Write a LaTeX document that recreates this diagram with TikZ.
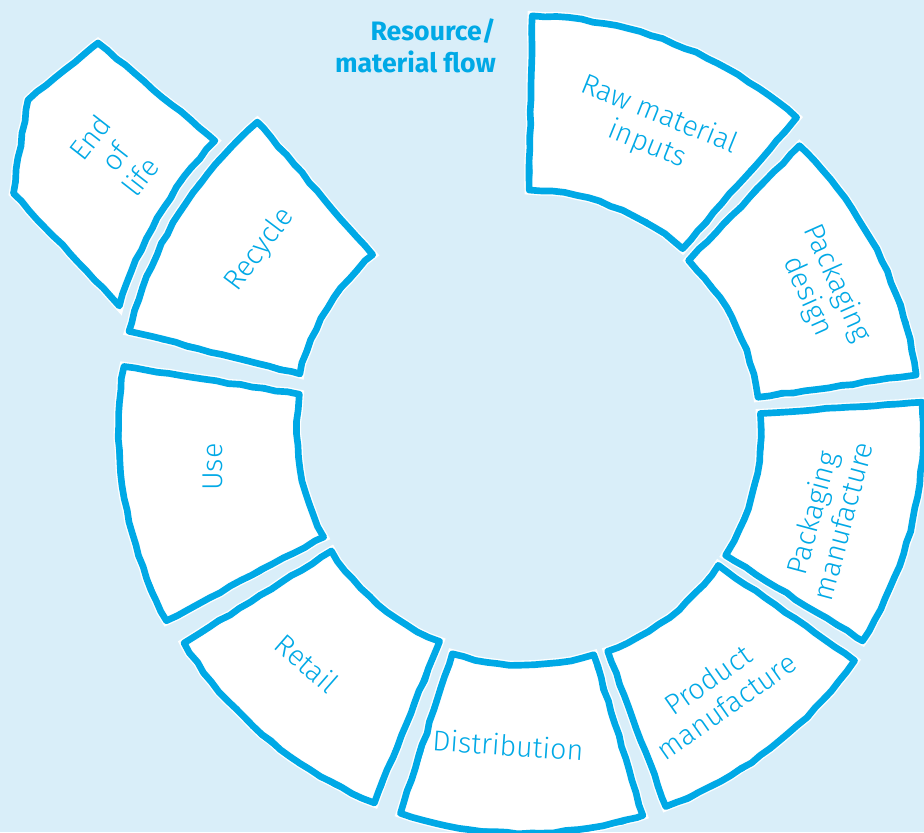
\documentclass[tikz,border=0pt]{standalone}
\usepackage{fontspec}
\setmainfont{Fira Sans}[UprightFont={* Light}, BoldFont={* Bold}]
\usepackage{tikz}
\usetikzlibrary{decorations.pathmorphing}

\definecolor{flowblue}{RGB}{0,169,230}
\definecolor{paleblue}{RGB}{217,238,249}

\tikzset{
  part/.style={fill=white, draw=flowblue, line width=5pt, line join=round,
    decorate, decoration={random steps, segment length=9pt, amplitude=0.6pt},
    preaction={draw=white, line width=7pt}},
  rough/.style={draw=flowblue, line width=2.2pt, line join=round, decorate,
    decoration={random steps, segment length=13pt, amplitude=1.3pt}},
  lbl/.style={text=flowblue, font=\fontsize{21.5}{24}\selectfont, align=center, inner sep=0pt},
  heading/.style={text=flowblue, font=\bfseries\fontsize{20}{23.5}\selectfont, align=right, inner sep=0pt}
}

\begin{document}
\begin{tikzpicture}[x=0.75pt, y=0.75pt]
\useasboundingbox (0,0) rectangle (924,832);
\fill[paleblue] (0,0) rectangle (924,832);
\coordinate (C) at (525,402);

% ring pieces: start angle / end angle / inner radius / outer radius
\foreach \a/\b/\ri/\ro in {49/89/240/414, 8/46/235/395, -32/4/236/398,
    -69.5/-35/236/402, -108/-73/235/403, -148/-112/228/402,
    171/208/228/406, 131/166/232/408}{
  \draw[part] ([shift={(\a:\ro)}]C) arc[start angle=\a, end angle=\b, radius=\ro]
    -- ([shift={(\b:\ri)}]C) arc[start angle=\b, end angle=\a, radius=\ri] -- cycle;
  \draw[rough] ([shift={(\a:\ro)}]C) arc[start angle=\a, end angle=\b, radius=\ro]
    -- ([shift={(\b:\ri)}]C) arc[start angle=\b, end angle=\a, radius=\ri] -- cycle;
}

% the loose piece outside the ring
\draw[part] (98,789) -- ([shift={(137:424)}]C) arc[start angle=137, end angle=163, radius=424]
  -- (13,639) -- (28,732) -- cycle;
\draw[rough] (98,789) -- ([shift={(137:424)}]C) arc[start angle=137, end angle=163, radius=424]
  -- (13,639) -- (28,732) -- cycle;

\node[lbl, rotate=-22] (raw) at (653,702) {Raw material\\inputs};
\node[lbl, rotate=-66] (design) at (822,542) {Packaging\\design};
\node[lbl, rotate=75] (packman) at (827,315) {Packaging\\manufacture};
\node[lbl, rotate=35] (prodman) at (717,139) {Product\\manufacture};
\node[lbl, rotate=-4] (distrib) at (508,87) {Distribution};
\node[lbl, rotate=-41] (retail) at (307,169) {Retail};
\node[lbl, rotate=90] (use) at (213,365) {Use};
\node[lbl, rotate=53] (recycle) at (260,582) {Recycle};
\node[lbl, rotate=52] (endlife) at (115,675) {End\\of\\life};

\node[heading, anchor=east] (title) at (496,786) {Resource/\\material flow};
\end{tikzpicture}
\end{document}
